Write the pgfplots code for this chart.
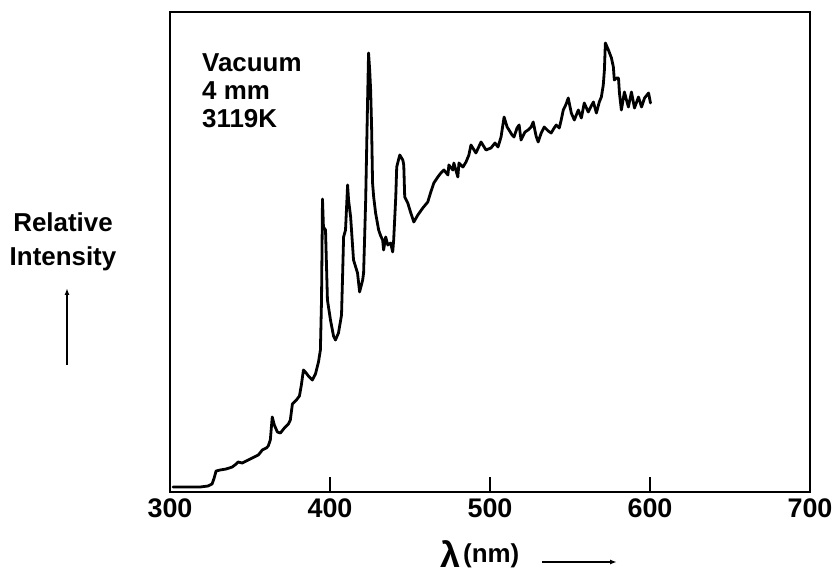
\documentclass[border=0pt]{standalone}
\usepackage{fontspec}
\setmainfont{Liberation Sans}
\usepackage{pgfplots}
\pgfplotsset{compat=1.18}
\usetikzlibrary{arrows.meta}

% Emission spectrum, relative intensity vs wavelength (nm)
\pgfplotstableread{
lambda I
301.9 5
318.8 5
323.8 6
326.3 8
327.6 14
328.8 21
331.3 22
335.1 23
338.9 25
341.4 28
342.6 30
345.1 29
348.9 32
352.7 35
355.2 37
357.7 42
360.2 44
361.4 46
362.7 52
363.9 75
365.2 67
367.1 60
369.0 59
371.5 64
374.0 68
375.2 72
376.5 88
377.7 90
379.0 92
380.9 96
382.1 107
383.4 122
384.6 120
386.5 116
389.0 112
390.9 118
392.8 130
394.0 142
394.7 192
395.0 242
395.3 293
395.9 265
397.2 262
398.4 192
400.3 172
402.2 156
403.4 152
405.3 159
407.2 177
407.8 212
408.5 255
409.7 262
411.0 307
411.6 292
412.9 275
414.7 232
417.2 219
418.5 200
420.4 212
421.0 219
421.6 252
422.3 292
422.9 342
423.5 392
424.1 439
424.8 422
425.4 402
426.0 365
426.6 309
427.3 295
428.5 279
430.4 262
431.7 256
432.9 252
433.5 242
434.8 255
436.1 247
437.9 249
439.2 240
439.8 252
441.1 295
441.7 325
443.6 337
445.5 332
446.1 327
446.7 295
448.6 289
450.5 279
452.4 270
454.9 277
458.0 284
461.1 290
463.0 300
464.9 309
467.4 315
469.3 319
471.2 322
473.7 317
474.3 327
476.8 322
477.4 329
479.9 315
480.6 329
483.1 325
485.0 330
486.8 337
488.1 347
491.2 339
494.4 350
497.5 342
500.6 344
503.1 349
505.0 345
506.9 355
508.8 375
510.7 365
511.9 362
513.8 357
515.0 355
516.9 364
518.2 367
519.4 352
521.9 360
523.8 362
525.7 365
527.0 370
528.8 356
530.1 350
532.0 359
533.9 365
536.4 361
538.2 359
540.1 364
541.4 367
543.3 364
544.5 372
545.8 382
547.6 388
548.9 394
550.8 379
552.7 372
555.2 382
557.1 374
558.9 389
561.4 380
563.3 386
564.6 390
566.5 379
568.3 390
569.6 395
570.8 407
571.5 422
572.1 449
574.0 442
575.9 434
577.1 425
577.7 412
579.0 414
580.3 414
580.9 399
582.1 382
584.0 400
585.3 392
586.5 385
588.4 400
590.3 384
592.8 395
594.7 385
596.6 394
599.1 399
600.3 389
}\spectrum

\begin{document}
\begin{tikzpicture}[x=1bp,y=1bp]
\path[use as bounding box] (-170,-87) rectangle (666,492);
\begin{axis}[
  at={(0,0)}, anchor=south west,
  scale only axis, width=640bp, height=480bp,
  xmin=300, xmax=700, ymin=0, ymax=480,
  xtick={300,400,500,600,700},
  xtick pos=bottom, tick align=inside,
  major tick length=15bp,
  ytick=\empty,
  axis line style={line width=2.4bp},
  every tick/.style={line width=2bp, black},
  /pgf/number format/assume math mode=true,
  xticklabel style={font=\fontsize{27}{30}\selectfont\bfseries, yshift=-3bp},
]
\addplot[black, line width=2.8bp, line join=round, line cap=round]
  table[x=lambda, y=I] {\spectrum};
\end{axis}

% run conditions
\begin{scope}[every node/.style={anchor=base west, inner sep=0pt,
    font=\fontsize{26}{30}\selectfont\bfseries}]
  \node at (32,420) {Vacuum};
  \node at (32,392) {4 mm};
  \node at (32,364) {3119K};
\end{scope}

% y-axis caption with arrow
\node[anchor=base, inner sep=0pt, font=\fontsize{26}{29}\selectfont\bfseries]
  at (-107,260) {Relative};
\node[anchor=base, inner sep=0pt, font=\fontsize{26}{29}\selectfont\bfseries]
  at (-107,226) {Intensity};
\draw[line width=2.2bp, -{Latex[length=7bp,width=5bp]}] (-103,127) -- (-103,204);

% x-axis caption with arrow
\node[anchor=base west, inner sep=0pt, font=\fontsize{36}{38}\selectfont\bfseries]
  at (270,-76) {λ};
\node[anchor=base west, inner sep=0pt, font=\fontsize{26}{28}\selectfont\bfseries]
  at (293,-71) {(nm)};
\draw[line width=2.4bp, -{Latex[length=7bp,width=5bp]}] (372,-70) -- (447,-70);
\end{tikzpicture}
\end{document}
